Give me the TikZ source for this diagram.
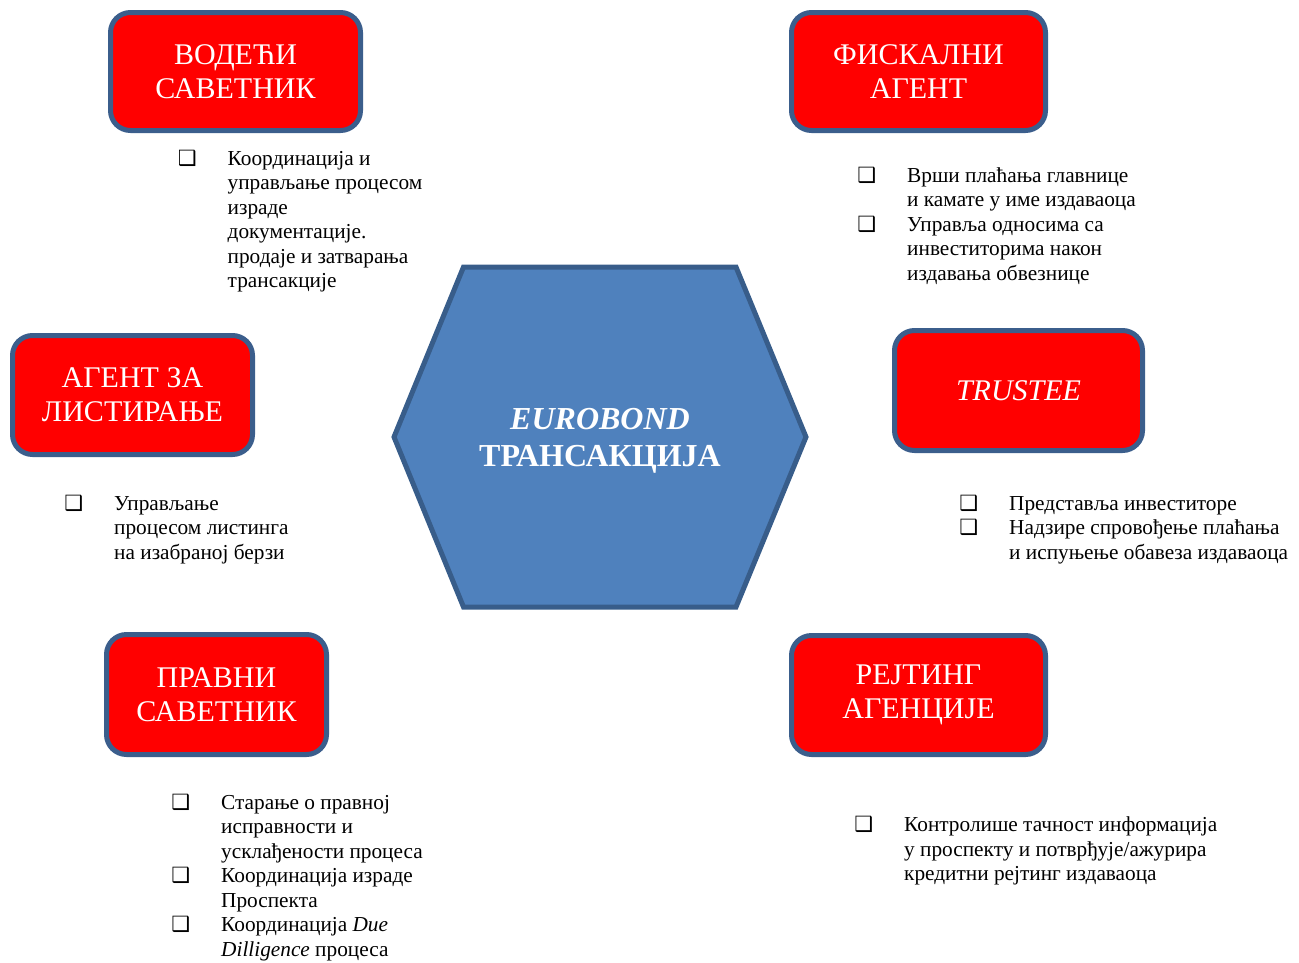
\documentclass[tikz,border=0pt]{standalone}
\usepackage{fontspec}
\setmainfont{Liberation Serif}
\newfontfamily\bulletfont{DejaVu Sans}
\definecolor{boxred}{RGB}{255,0,0}
\definecolor{boxedge}{RGB}{59,94,140}
\definecolor{hexfill}{RGB}{79,129,189}
\definecolor{hexedge}{RGB}{56,93,138}
\newcommand{\bx}{\llap{{\bulletfont\fontsize{21}{21}\selectfont ❑}\hspace{31pt}}}
\newcommand{\itemlines}[1]{\begin{tabular}[t]{@{}l@{}}#1\end{tabular}}
\tikzset{
  rolebox/.style={draw=boxedge, fill=boxred, line width=5pt, rounded corners=20pt,
    text=white, align=center, inner sep=0pt,
    font=\fontsize{30}{34}\selectfont},
  desc/.style={anchor=base west, inner sep=0pt, text=black,
    font=\fontsize{21.3}{24.5}\selectfont},
  hexshape/.style={draw=hexedge, fill=hexfill, line width=5pt, line join=miter},
  hextext/.style={text=white, align=center, inner sep=0pt,
    font=\fontsize{32}{37}\selectfont\bfseries}
}
\begin{document}
\begin{tikzpicture}[x=1pt, y=-1pt]
\useasboundingbox (0,0) rectangle (1299,962);

% central hexagon
\coordinate (hl) at (394,437);
\coordinate (htl) at (463.5,267);
\coordinate (htr) at (736,267);
\coordinate (hr) at (806,437);
\coordinate (hbr) at (736,607);
\coordinate (hbl) at (463.5,607);
\draw[hexshape] (hl) -- (htl) -- (htr) -- (hr) -- (hbr) -- (hbl) -- cycle;
\node[hextext] (hex) at (600,441) {\textit{EUROBOND}\\ТРАНСАКЦИЈА};

% role boxes
\node[rolebox, minimum width=250, minimum height=118] (vod) at (235.5,71.5) {ВОДЕЋИ\\САВЕТНИК};
\node[rolebox, minimum width=254, minimum height=118] (fis) at (918.5,71.5) {ФИСКАЛНИ\\АГЕНТ};
\node[rolebox, minimum width=240, minimum height=119] (agt) at (132.5,395) {АГЕНТ ЗА\\ЛИСТИРАЊЕ};
\node[rolebox, minimum width=248, minimum height=120] (tru) at (1018.5,390.5) {\textit{TRUSTEE}};
\node[rolebox, minimum width=220, minimum height=120] (pra) at (216.5,694.5) {ПРАВНИ\\САВЕТНИК};
\node[rolebox, minimum width=254, minimum height=119] (rej) at (918.5,695) {РЕЈТИНГ\\АГЕНЦИЈЕ};

% descriptions
\node[desc] (dvod) at (227.5,165) {\itemlines{\bx Координација и\\управљање процесом\\израде\\документације.\\продаје и затварања\\трансакције}};
\node[desc] (dfis) at (907,182) {\itemlines{\bx Врши плаћања главнице\\и камате у име издаваоца\\\bx Управља односима са\\инвеститорима након\\издавања обвезнице}};
\node[desc] (dagt) at (114,510) {\itemlines{\bx Управљање\\процесом листинга\\на изабраној берзи}};
\node[desc] (dtru) at (1009,510) {\itemlines{\bx Представља инвеститоре\\\bx Надзире спровођење плаћања\\и испуњење обавеза издаваоца}};
\node[desc] (dpra) at (221,809) {\itemlines{\bx Старање о правној\\исправности и\\усклађености процеса\\\bx Координација израде\\Проспекта\\\bx Координација \textit{Due}\\\textit{Dilligence} процеса}};
\node[desc] (drej) at (904,831.5) {\itemlines{\bx Контролише тачност информација\\у проспекту и потврђује/ажурира\\кредитни рејтинг издаваоца}};
\end{tikzpicture}
\end{document}
